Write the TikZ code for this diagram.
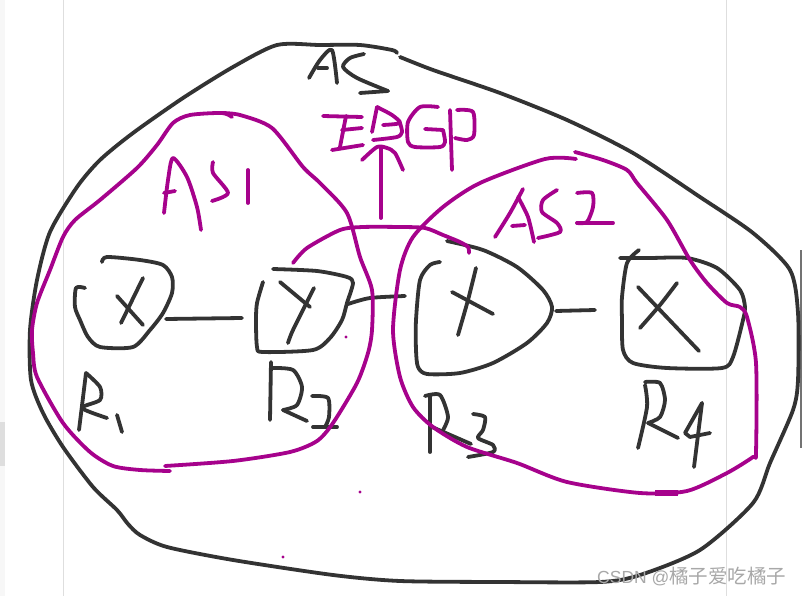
\documentclass[tikz,border=0pt]{standalone}
\usepackage{fontspec}
\setmainfont{Liberation Sans}
\newfontfamily\cjkfont{Noto Sans CJK SC}
\definecolor{inkblack}{HTML}{333333}
\definecolor{inkpurple}{HTML}{A6028C}
\definecolor{wm}{HTML}{A8A8A8}
\tikzset{
  ink/.style={draw=inkblack,line width=3.8pt,line cap=round,line join=round},
  pur/.style={draw=inkpurple,line width=3.8pt,line cap=round,line join=round},
  sm/.style={smooth,tension=0.45},
  guide/.style={draw=black!13,line width=1pt}
}
\begin{document}
\begin{tikzpicture}[x=1pt,y=-1pt]
\useasboundingbox (0,0) rectangle (803,596);
\fill[white] (0,0) rectangle (803,596);
% page chrome
\fill[black!3] (0,0) rectangle (5,596);
\fill[black!13] (0,422) rectangle (5,466);
\draw[guide] (63.5,0) -- (63.5,596);
\draw[guide] (726.5,0) -- (726.5,596);
\draw[draw=black!55,line width=2pt] (800.5,250) -- (800.5,448);
% outer boundary
\draw[ink] plot[sm] coordinates {(397,53)(392,50)(360,45)(320,45)(277,45)(233,67)(183,98)(133,133)(100,160)(77,187)(50,232)(37,280)(30,330)(31,380)(43,413)(63,447)(93,487)(117,510)(128,524)(140,535)(167,547)(233,560)(333,575)(400,581)(500,582)(600,582)(640,575)(700,550)(753,503)(770,463)(793,410)(798,380)(798,313)(790,270)(753,233)(700,197)(633,153)(567,120)(500,93)(433,70)(400,57)};
% AS label
\draw[ink] plot[sm] coordinates {(309,78)(320,60)(332,50)(337,83)};
\draw[ink] (318,68) -- (327,68);
\draw[ink] plot[sm] coordinates {(364,54)(350,58)(343,67)(357,78)(388,91)};
\draw[ink] (388,91) -- (360,93);
% R1
\draw[ink] plot[sm] coordinates {(102,262)(107,257)(140,260)(163,265)(172,277)(172,293)(163,313)(150,330)(133,347)(100,347)(88,337)(80,320)(75,307)(76,288)(85,288)};
\draw[ink] (117,296) -- (143,325);
\draw[ink] (143,278) -- (121,323);
\draw[ink] (166,319) -- (242,318);
% R2
\draw[ink] plot[sm] coordinates {(273,269)(317,271)(347,277)(353,283)(347,303)(342,320)(330,338)(313,350)(263,352)(257,347)(256,320)(257,303)(263,282)};
\draw[ink] (280,282) -- (310,307);
\draw[ink] plot[sm] coordinates {(314,288)(293,330)(288,343)};
\draw[ink] plot[sm] coordinates {(348,304)(370,298)(405,296)};
% R3
\draw[ink] plot[sm] coordinates {(447,241)(483,250)(517,267)(543,290)(552,307)(547,323)(527,343)(493,363)(460,373)(427,374)(418,367)(416,350)(416,320)(420,280)(430,265)(440,262)};
\draw[ink] (452,292) -- (493,314);
\draw[ink] plot[sm] coordinates {(476,268)(468,300)(458,335)};
\draw[ink] (556,311) -- (595,310);
% R4
\draw[ink] plot[sm] coordinates {(620,258)(650,258)(687,258)(717,268)(740,290)(745,307)(743,320)(733,357)(722,368)(667,368)(633,363)(623,350)(622,320)(622,297)(627,263)(639,250)};
\draw[ink] (638,287) -- (699,351);
\draw[ink] plot[sm] coordinates {(677,283)(660,305)(640,328)};
% R labels
\draw[ink] plot[sm] coordinates {(86,373)(79,430)};
\draw[ink] plot[sm] coordinates {(86,373)(100,387)(100,400)(82,408)(107,418)};
\draw[ink] (117,415) -- (122,432);
\draw[ink] (271,362) -- (270,420);
\draw[ink] plot[sm] coordinates {(272,368)(293,370)(302,387)(297,405)(283,410)};
\draw[ink] (283,410) -- (307,421);
\draw[ink] plot[sm] coordinates {(312,396)(328,398)(329,417)(325,427)};
\draw[ink] (313,427) -- (337,427);
\draw[ink] (430,395) -- (430,452);
\draw[ink] plot[sm] coordinates {(425,396)(440,395)(448,417)(442,432)};
\draw[ink] (432,427) -- (471,444);
\draw[ink] plot[sm] coordinates {(473,414)(485,417)(483,430)(478,438)(493,445)(493,452)(468,457)};
\draw[ink] plot[sm] coordinates {(645,385)(647,407)(638,448)};
\draw[ink] plot[sm] coordinates {(645,382)(660,383)(665,400)(660,417)(648,423)};
\draw[ink] (648,423) -- (678,438);
\draw[ink] (702,403) -- (685,433) -- (690,437) -- (710,433);
\draw[ink] (702,403) -- (694,467);
% AS1 region
\draw[pur] plot[sm] coordinates {(232,117)(222,113)(190,115)(173,123)(157,145)(137,168)(100,200)(75,220)(63,237)(50,270)(37,303)(32,330)(33,353)(37,377)(63,423)(90,452)(113,466)(140,470)(170,471)};
\draw[pur] plot[sm] coordinates {(165,466)(233,461)(290,452)(317,441)(333,423)(357,383)(368,353)(372,330)(372,290)(360,257)(347,213)(320,183)(303,167)(272,128)(240,115)(222,113)};
% arc over
\draw[pur] plot[sm] coordinates {(293,263)(307,248)(340,230)(363,227)(400,227)(425,228)(443,235)(460,242)(468,247)(469,253)};
% AS2 region
\draw[pur] plot[sm] coordinates {(576,159)(545,159)(480,183)(443,207)(413,237)(400,270)(393,330)(400,377)(413,407)(433,427)(467,447)(517,463)(567,482)(640,493)(687,491)(727,473)(753,457)(756,452)(756,363)(747,317)(740,307)(727,303)(707,283)(690,260)(667,220)(637,183)(627,170)(603,160)(575,152)};
\draw[pur,line width=5.2pt,line cap=butt] (655,493) -- (678,493);
% AS1 label
\draw[pur] plot[sm] coordinates {(164,213)(168,180)(173,158)(187,177)(197,207)(201,230)};
\draw[pur] (164,193) -- (175,191);
\draw[pur] plot[sm] coordinates {(213,162)(213,173)(228,193)(212,201)};
\draw[pur] (248,170) -- (248,203);
% AS2 label
\draw[pur] plot[sm] coordinates {(495,237)(510,213)(523,189)};
\draw[pur] plot[sm] coordinates {(518,197)(528,217)(534,242)};
\draw[pur] (512,226) -- (525,225);
\draw[pur] plot[sm] coordinates {(557,190)(543,200)(542,212)(557,223)(560,232)(538,238)};
\draw[pur] plot[sm] coordinates {(577,193)(592,193)(593,207)(587,222)(577,223)};
\draw[pur] (577,223) -- (613,223);
% EBGP
\draw[pur] (323,116) -- (362,117);
\draw[pur] (346,116) -- (340,147);
\draw[pur] (342,130) -- (362,128);
\draw[pur] (332,150) -- (363,145);
\draw[pur] (377,107) -- (372,132);
\draw[pur] plot[sm] coordinates {(377,107)(392,115)(400,123)(383,125)};
\draw[pur] plot[sm] coordinates {(400,123)(402,132)(397,137)(373,140)};
\draw[pur] plot[sm] coordinates {(438,107)(420,107)(408,122)(408,142)(415,147)(440,147)(445,142)(443,130)};
\draw[pur] (425,129) -- (443,130);
\draw[pur] (450,110) -- (452,170);
\draw[pur] plot[sm] coordinates {(457,110)(473,112)(474,135)(467,140)(455,138)};
% arrow
\draw[pur] (381,218) -- (381,148);
\draw[pur] plot[sm] coordinates {(362,160)(377,147)(387,148)(395,153)(403,170)};
% specks
\fill[inkpurple] (346,337) circle (1.6);
\fill[inkpurple] (360,492) circle (1.6);
\fill[inkpurple] (283,557) circle (1.6);
% watermark
\node[text=wm,font=\fontsize{17.5}{20}\selectfont,inner sep=0pt,anchor=west] (mark) at (597,577) {CSDN @{\cjkfont\fontsize{19.5}{20}\selectfont 橘子爱吃橘子}};
\end{tikzpicture}
\end{document}
